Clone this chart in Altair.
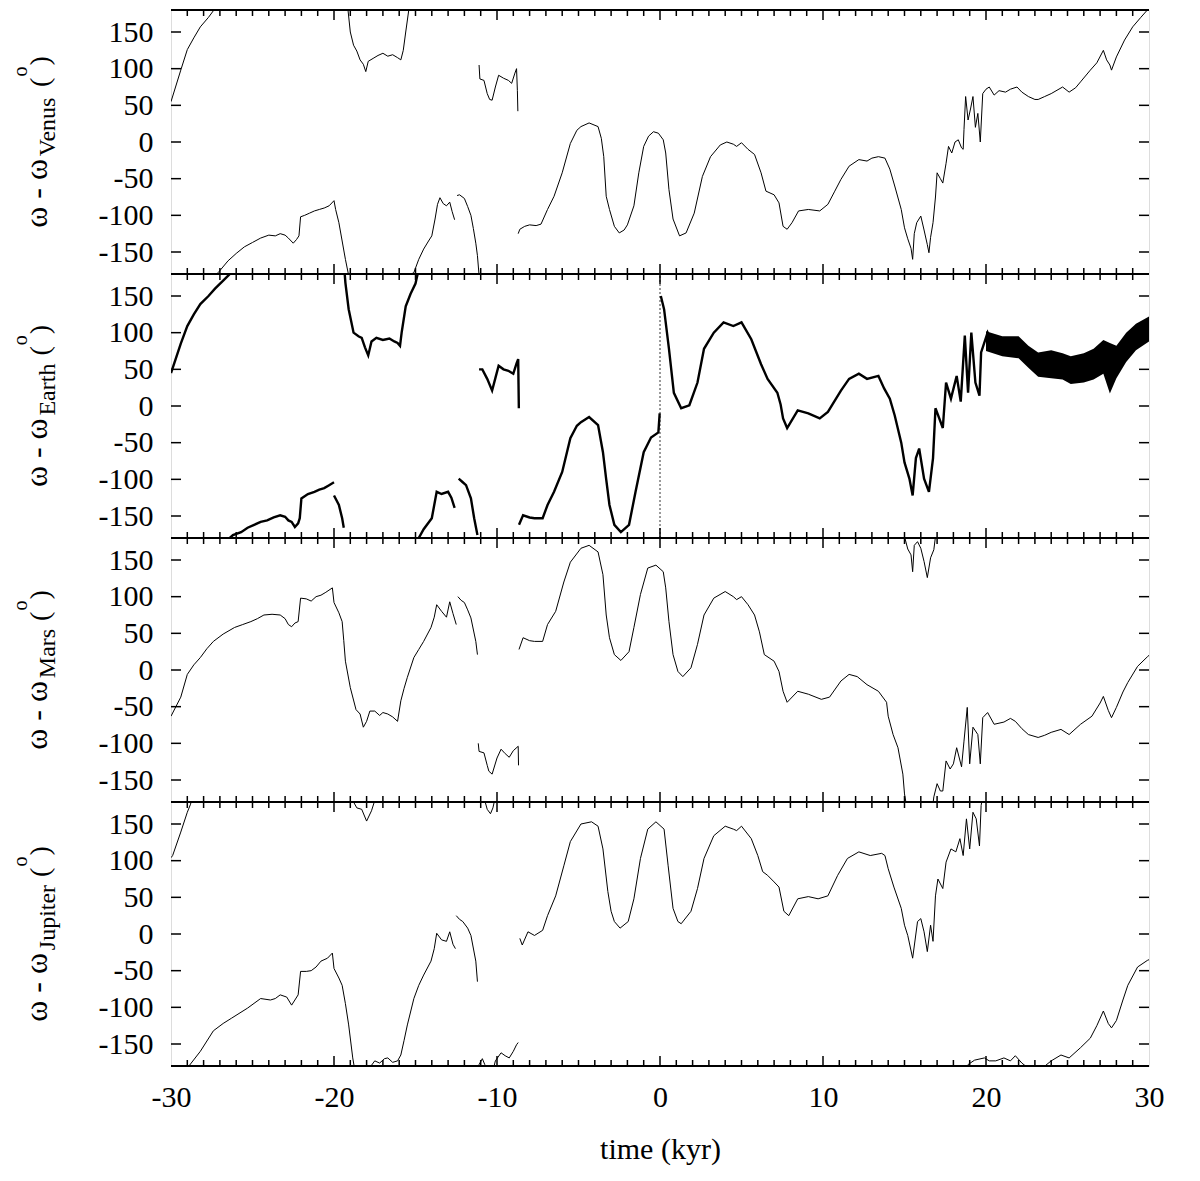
import altair as alt
import pandas as pd

W, H = 978, 264
FONT = "Liberation Serif"

x_labels = [-30, -20, -10, 0, 10, 20, 30]
x_major = [-20, -10, 0, 10, 20]
x_minor = [k for k in range(-29, 30) if k % 10 != 0]
y_ticks = [-150, -100, -50, 0, 50, 100, 150]

# ---------------- Venus panel (omega - omega_Venus) ----------------
venus_segments = [
    [(-30, 55), (-29.4, 98), (-29.0, 126), (-28.6, 142), (-28.2, 157), (-27.7, 170), (-27.3, 182)],
    [(-27.3, -182), (-27.1, -178), (-26.5, -162), (-26.0, -152), (-25.5, -143), (-25.0, -137), (-24.5, -131),
     (-24.0, -127), (-23.6, -128), (-23.3, -125), (-23.0, -127), (-22.8, -131), (-22.5, -138), (-22.3, -133),
     (-22.15, -128), (-22.05, -102), (-21.8, -100), (-21.5, -97), (-21.2, -94), (-20.9, -92), (-20.6, -90),
     (-20.3, -87), (-20.0, -80), (-19.9, -92), (-19.7, -110), (-19.5, -135), (-19.3, -160), (-19.1, -182)],
    [(-19.15, 182), (-19.0, 150), (-18.8, 132), (-18.6, 124), (-18.4, 112), (-18.2, 106), (-18.05, 96),
     (-17.9, 110), (-17.6, 114), (-17.3, 118), (-17.0, 121), (-16.7, 117), (-16.4, 119), (-16.1, 115),
     (-15.9, 112), (-15.75, 125), (-15.6, 150), (-15.4, 182)],
    [(-15.4, -182), (-15.1, -178), (-14.8, -160), (-14.5, -146), (-14.2, -135), (-14.0, -128), (-13.8, -105),
     (-13.65, -85), (-13.5, -76), (-13.3, -84), (-13.1, -87), (-12.9, -82), (-12.75, -95), (-12.6, -106)],
    [(-12.45, -73), (-12.3, -72), (-12.0, -77), (-11.8, -88), (-11.6, -100), (-11.45, -118), (-11.3, -138),
     (-11.2, -155), (-11.1, -182)],
    [(-11.1, 105), (-11.05, 86), (-10.8, 84), (-10.6, 66), (-10.45, 58), (-10.3, 57), (-10.1, 75), (-9.9, 91),
     (-9.6, 87), (-9.3, 84), (-9.1, 80), (-8.9, 94), (-8.8, 100), (-8.75, 70), (-8.72, 42)],
    [(-8.7, -125), (-8.6, -119), (-8.3, -115), (-8.0, -113), (-7.6, -114), (-7.3, -112), (-6.9, -92), (-6.5, -74),
     (-6.0, -42), (-5.5, -2), (-5.1, 16), (-4.85, 21), (-4.35, 26), (-3.8, 21), (-3.6, 5), (-3.45, -20),
     (-3.3, -74), (-3.1, -92), (-2.8, -115), (-2.5, -124), (-2.2, -120), (-2.0, -113), (-1.6, -87), (-1.3, -42),
     (-1.0, -6), (-0.7, 8), (-0.4, 14), (-0.1, 12), (0.2, 3), (0.35, -15), (0.55, -65), (0.8, -105), (1.2, -128),
     (1.6, -124), (2.1, -97), (2.6, -47), (3.1, -20), (3.7, -4), (4.1, 0), (4.5, -3), (4.7, -6), (5.0, -1),
     (5.4, -10), (5.8, -17), (6.2, -42), (6.5, -67), (7.0, -72), (7.3, -83), (7.55, -115), (7.8, -119),
     (8.1, -110), (8.5, -94), (9.1, -92), (9.8, -94), (10.3, -85), (10.7, -68), (11.1, -51), (11.6, -33),
     (12.2, -24), (12.7, -26), (13.0, -22), (13.4, -20), (13.8, -22), (14.1, -37), (14.4, -60), (14.8, -92),
     (15.0, -117), (15.2, -132), (15.4, -145), (15.5, -160), (15.6, -125), (15.75, -110), (16.0, -101),
     (16.2, -120), (16.4, -140), (16.5, -151), (16.6, -130), (16.75, -110), (16.9, -75), (17.0, -42),
     (17.2, -50), (17.35, -56), (17.55, -29), (17.7, -6), (17.9, -15), (18.1, 0), (18.3, 3), (18.5, -8),
     (18.6, -10), (18.65, 17), (18.75, 62), (18.9, 30), (19.05, 45), (19.2, 62), (19.35, 20), (19.5, 39),
     (19.65, 0), (19.8, 66), (20.0, 72), (20.2, 75), (20.5, 64), (20.8, 70), (21.2, 68), (21.5, 72),
     (21.9, 75), (22.2, 68), (22.6, 62), (23.0, 58), (23.2, 58), (23.6, 62), (24.0, 66), (24.7, 75),
     (25.1, 68), (25.5, 74), (25.8, 82), (26.4, 98), (26.8, 108), (27.2, 125), (27.4, 112), (27.6, 105),
     (27.7, 98), (28.0, 116), (28.5, 139), (29.0, 157), (29.5, 170), (29.9, 180), (30.0, 182)],
]

# ---------------- Earth panel (omega - omega_Earth) ----------------
earth_segments = [
    [(-30, 45), (-29.4, 85), (-29.0, 109), (-28.6, 125), (-28.2, 139), (-27.7, 150), (-27.3, 160),
     (-26.8, 171), (-26.3, 182)],
    [(-26.5, -182), (-26.2, -176), (-25.7, -172), (-25.3, -166), (-24.9, -162), (-24.5, -158), (-24.1, -156),
     (-23.7, -152), (-23.3, -149), (-23.0, -151), (-22.8, -156), (-22.6, -158), (-22.4, -165), (-22.2, -160),
     (-22.1, -153), (-22.0, -126), (-21.6, -120), (-21.2, -117), (-20.9, -114), (-20.6, -112), (-20.3, -108),
     (-20.0, -104)],
    [(-20.0, -122), (-19.7, -135), (-19.5, -153), (-19.4, -166)],
    [(-19.35, 182), (-19.3, 168), (-19.1, 132), (-18.8, 100), (-18.5, 95), (-18.3, 93), (-18.1, 80),
     (-17.9, 69), (-17.7, 88), (-17.4, 93), (-17.0, 90), (-16.6, 92), (-16.3, 88), (-16.1, 86), (-15.95, 82),
     (-15.85, 100), (-15.6, 136), (-15.3, 153), (-15.0, 167), (-14.85, 182)],
    [(-14.85, -182), (-14.5, -168), (-14.0, -153), (-13.7, -117), (-13.4, -120), (-13.0, -117), (-12.8, -125),
     (-12.6, -139)],
    [(-12.35, -99), (-12.1, -104), (-11.9, -108), (-11.6, -126), (-11.4, -153), (-11.2, -176)],
    [(-11.1, 50), (-10.9, 50), (-10.6, 37), (-10.3, 21), (-10.1, 38), (-9.9, 55), (-9.6, 50), (-9.3, 48),
     (-9.0, 44), (-8.8, 58), (-8.7, 64), (-8.68, 30), (-8.66, -3)],
    [(-8.65, -162), (-8.4, -149), (-8.0, -152), (-7.7, -153), (-7.2, -153), (-6.9, -135), (-6.5, -117),
     (-6.0, -90), (-5.5, -44), (-5.1, -27), (-4.85, -22), (-4.35, -15), (-3.8, -26), (-3.5, -63), (-3.3, -100),
     (-3.1, -135), (-2.8, -162), (-2.4, -172), (-1.9, -162), (-1.5, -117), (-1.0, -63), (-0.55, -43),
     (-0.1, -36), (-0.02, -10)],
    [(0.05, 150), (0.25, 132), (0.55, 78), (0.85, 18), (1.3, -3), (1.8, 1), (2.3, 32), (2.7, 78), (3.3, 100),
     (3.9, 114), (4.5, 109), (5.0, 114), (5.6, 91), (6.2, 57), (6.6, 37), (7.2, 18), (7.4, 2), (7.55, -17),
     (7.8, -30), (8.45, -6), (9.1, -10), (9.8, -17), (10.3, -8), (11.1, 21), (11.6, 37), (12.2, 44),
     (12.7, 37), (13.4, 41), (13.75, 24), (14.1, 10), (14.4, -13), (14.8, -50), (15.0, -77), (15.3, -99),
     (15.5, -122), (15.7, -71), (15.9, -58), (16.2, -99), (16.5, -117), (16.75, -71), (16.9, -3),
     (17.35, -30), (17.55, 32), (17.85, 10), (18.2, 41), (18.45, 6), (18.7, 96), (18.9, 18), (19.1, 100),
     (19.35, 32), (19.6, 14), (19.7, 73), (20.1, 100), (20.5, 80), (21.1, 86), (21.8, 91), (22.6, 64),
     (23.2, 55), (24.0, 59), (24.7, 59), (25.2, 50), (26.0, 55), (26.6, 59), (27.2, 64), (27.7, 46),
     (28.3, 64), (28.9, 86), (29.6, 103), (30.0, 105)],
]
# fast-oscillation envelope of the Earth curve after ~20 kyr
earth_band_t = [20.0, 21.0, 22.0, 22.6, 23.2, 24.0, 24.7, 25.2, 26.0, 26.6, 27.2, 27.6, 28.0, 28.6, 29.2, 30.0]
earth_band_hi = [102, 95, 95, 82, 73, 76, 72, 68, 72, 78, 90, 86, 82, 100, 112, 122]
earth_band_lo = [75, 68, 65, 52, 40, 38, 36, 30, 32, 36, 44, 17, 38, 60, 76, 88]
earth_jump = [(0.0, -180), (0.0, 180)]

# ---------------- Mars panel (omega - omega_Mars) ----------------
mars_segments = [
    [(-30, -63), (-29.4, -37), (-29.0, -6), (-28.6, 7), (-28.2, 17), (-27.8, 29), (-27.4, 39), (-26.8, 49),
     (-26.1, 58), (-25.6, 62), (-25.1, 66), (-24.7, 70), (-24.3, 75), (-23.8, 76), (-23.3, 75), (-23.0, 70),
     (-22.8, 62), (-22.6, 59), (-22.4, 64), (-22.2, 66), (-22.05, 98), (-21.7, 97), (-21.4, 94), (-21.1, 100),
     (-20.8, 102), (-20.5, 106), (-20.1, 112), (-20.0, 92), (-19.7, 78), (-19.5, 66), (-19.4, 40), (-19.3, 12),
     (-19.0, -24), (-18.65, -54), (-18.4, -60), (-18.2, -78), (-18.0, -70), (-17.8, -56), (-17.5, -56),
     (-17.2, -62), (-17.0, -58), (-16.7, -60), (-16.4, -64), (-16.1, -70), (-15.9, -42), (-15.7, -25),
     (-15.5, -10), (-15.1, 17), (-14.8, 28), (-14.5, 39), (-14.05, 58), (-13.85, 72), (-13.7, 89),
     (-13.4, 80), (-13.1, 72), (-12.9, 93), (-12.7, 77), (-12.5, 62)],
    [(-12.4, 100), (-12.2, 95), (-12.0, 92), (-11.8, 82), (-11.6, 71), (-11.3, 39), (-11.2, 21)],
    [(-11.15, -100), (-11.1, -111), (-10.8, -113), (-10.6, -130), (-10.5, -138), (-10.3, -142), (-10.0, -120),
     (-9.75, -108), (-9.5, -114), (-9.25, -119), (-9.0, -110), (-8.7, -104), (-8.68, -130)],
    [(-8.65, 28), (-8.4, 44), (-8.0, 40), (-7.7, 39), (-7.2, 39), (-6.9, 62), (-6.4, 80), (-5.9, 120),
     (-5.5, 147), (-4.85, 166), (-4.35, 170), (-3.8, 161), (-3.5, 130), (-3.3, 75), (-3.1, 44), (-2.8, 21),
     (-2.4, 13), (-1.9, 25), (-1.6, 58), (-1.2, 103), (-0.75, 139), (-0.25, 143), (0.2, 134), (0.35, 112),
     (0.55, 66), (0.8, 21), (1.1, -2), (1.4, -9), (1.9, 3), (2.3, 35), (2.7, 75), (3.3, 98), (4.0, 107),
     (4.5, 100), (4.7, 96), (5.0, 100), (5.4, 89), (5.8, 75), (6.1, 52), (6.4, 21), (7.0, 12), (7.3, -2),
     (7.55, -29), (7.8, -44), (8.45, -29), (9.1, -33), (9.9, -40), (10.4, -37), (11.1, -15), (11.6, -6),
     (12.1, -9), (12.7, -20), (13.4, -29), (13.9, -44), (14.0, -63), (14.3, -88), (14.6, -106), (14.9, -142),
     (15.0, -169), (15.1, -182)],
    [(15.0, 182), (15.2, 165), (15.4, 157), (15.5, 134), (15.6, 170), (15.8, 175), (16.0, 166), (16.2, 148),
     (16.4, 126), (16.6, 153), (16.8, 164), (16.9, 182)],
    [(16.75, -182), (16.8, -173), (17.0, -155), (17.2, -165), (17.35, -165), (17.55, -124), (17.8, -135),
     (18.0, -128), (18.2, -106), (18.5, -132), (18.65, -97), (18.85, -51), (19.0, -128), (19.2, -78),
     (19.5, -88), (19.65, -128), (19.8, -65), (20.1, -58), (20.5, -74), (21.1, -71), (21.5, -66), (21.8, -70),
     (22.2, -80), (22.6, -88), (23.2, -92), (23.6, -89), (24.0, -85), (24.6, -81), (25.1, -88), (25.8, -74),
     (26.5, -63), (27.0, -45), (27.2, -36), (27.5, -55), (27.7, -65), (28.0, -51), (28.4, -30), (28.7, -17),
     (29.3, 5), (29.9, 18), (30.0, 20)],
]

# ---------------- Jupiter panel (omega - omega_Jupiter) ----------------
jupiter_segments = [
    [(-30, 104), (-29.9, 107), (-29.4, 139), (-29.0, 166), (-28.8, 177), (-28.75, 182)],
    [(-28.95, -182), (-28.9, -180), (-28.2, -160), (-27.4, -132), (-26.8, -122), (-26.3, -115), (-25.3, -101),
     (-24.5, -88), (-23.9, -90), (-23.6, -88), (-23.3, -83), (-22.9, -86), (-22.6, -97), (-22.4, -90),
     (-22.2, -83), (-22.05, -51), (-21.7, -51), (-21.4, -50), (-21.1, -45), (-20.8, -37), (-20.4, -33),
     (-20.1, -26), (-20.0, -47), (-19.7, -60), (-19.5, -70), (-19.3, -95), (-19.1, -124), (-18.85, -169),
     (-18.75, -182)],
    [(-18.85, 182), (-18.6, 172), (-18.3, 170), (-18.0, 154), (-17.7, 168), (-17.5, 182)],
    [(-17.8, -182), (-17.5, -173), (-17.2, -176), (-16.9, -170), (-16.7, -169), (-16.4, -175), (-16.1, -173),
     (-15.9, -165), (-15.7, -145), (-15.5, -124), (-15.1, -88), (-14.8, -70), (-14.5, -56), (-14.05, -37),
     (-13.85, -20), (-13.7, 1), (-13.4, -8), (-13.1, -10), (-12.9, 3), (-12.7, -14), (-12.55, -20)],
    [(-12.5, 25), (-12.3, 20), (-12.1, 17), (-11.8, 8), (-11.6, -2), (-11.3, -37), (-11.2, -65)],
    [(-11.15, -182), (-11.1, -178), (-10.9, -170), (-10.75, -178), (-10.65, -182)],
    [(-10.75, 182), (-10.6, 170), (-10.4, 164), (-10.25, 172), (-10.15, 182)],
    [(-10.2, -182), (-10.1, -173), (-9.75, -162), (-9.5, -166), (-9.25, -169), (-9.0, -160), (-8.8, -151),
     (-8.7, -148)],
    [(-8.6, -6), (-8.45, -15), (-8.1, 3), (-7.7, -2), (-7.2, 5), (-6.9, 25), (-6.4, 52), (-5.9, 93),
     (-5.5, 126), (-4.85, 150), (-4.2, 153), (-3.8, 147), (-3.5, 116), (-3.2, 58), (-3.0, 31), (-2.8, 17),
     (-2.45, 8), (-1.95, 17), (-1.6, 48), (-1.2, 103), (-0.75, 143), (-0.25, 153), (0.25, 143), (0.5, 93),
     (0.8, 35), (1.1, 17), (1.3, 14), (1.9, 31), (2.3, 62), (2.7, 103), (3.3, 134), (4.0, 147), (4.5, 143),
     (4.7, 141), (5.0, 147), (5.6, 130), (6.0, 107), (6.3, 85), (6.6, 80), (7.0, 71), (7.3, 64), (7.6, 31),
     (7.9, 25), (8.45, 48), (9.1, 51), (9.7, 48), (10.3, 52), (10.9, 80), (11.5, 103), (12.2, 112),
     (12.9, 107), (13.6, 110), (13.8, 107), (14.0, 89), (14.35, 64), (14.8, 35), (15.0, 12), (15.2, -2),
     (15.5, -33), (15.8, 17), (16.0, 21), (16.2, 3), (16.4, -24), (16.6, 12), (16.75, -10), (16.9, 52),
     (17.05, 75), (17.35, 62), (17.55, 98), (17.85, 116), (18.15, 112), (18.4, 130), (18.6, 107), (18.8, 157),
     (19.0, 116), (19.2, 166), (19.4, 157), (19.6, 120), (19.7, 175), (19.75, 182)],
    [(18.85, -182), (18.9, -178), (19.3, -172), (19.9, -169), (20.2, -173), (20.6, -173), (21.1, -169),
     (21.5, -173), (21.8, -166), (22.2, -176), (22.6, -183)],
    [(23.5, -182), (24.0, -173), (24.6, -165), (25.1, -169), (25.8, -155), (26.4, -142), (26.8, -125),
     (27.2, -105), (27.5, -122), (27.7, -128), (28.0, -118), (28.4, -90), (28.7, -70), (29.3, -45),
     (29.9, -36), (30.0, -35)],
]

planet_names = ["Venus", "Earth", "Mars", "Jupiter"]

# ------------------------------------------------------------------
xs = alt.Scale(domain=[-30, 30], nice=False, zero=False, padding=0)
ys = alt.Scale(domain=[-180, 180], nice=False, zero=False, padding=0)

yaxis = alt.Axis(values=y_ticks, ticks=False, tickSize=0, domain=False, grid=False, title=None,
                 labelFont=FONT, labelFontSize=30, labelPadding=18, labelColor="black",
                 labelFlush=False, labelExpr="'' + datum.value")
xaxis_bottom = alt.Axis(values=x_labels, ticks=False, tickSize=0, domain=False, grid=False,
                        labelFont=FONT, labelFontSize=30, labelPadding=16, labelColor="black",
                        labelFlush=False, labelExpr="'' + datum.value", title="time (kyr)",
                        titleFont=FONT, titleFontSize=30, titleFontWeight="normal", titleColor="black",
                        titlePadding=22)

CW = {"ω": 0.686, " ": 0.25, "-": 0.333, "(": 0.333, ")": 0.333, "o": 0.5,
      "V": 0.722, "e": 0.444, "n": 0.5, "u": 0.5, "s": 0.389, "E": 0.611, "a": 0.444,
      "r": 0.333, "t": 0.278, "h": 0.5, "M": 0.889, "J": 0.389, "p": 0.5, "i": 0.278}


def tw(s, size):
    return sum(CW.get(c, 0.5) for c in s) * size


one = pd.DataFrame({"k": [0]})


def title_layers(name):
    S, S2, SP, SO = 32, 24, 28, 20
    xb = -124
    w1 = tw("ω - ω", S)
    w2 = tw(name, S2)
    wp = tw("(", SP)
    wo = tw("o", SO)
    gap = 0.25 * S
    L = w1 + 1 + w2 + gap + wp + wo + 2 + wp
    start = H / 2 + L / 2
    pieces = [
        ("ω - ω", S, xb, start),
        (name, S2, xb + 8, start - w1 - 1),
        ("(", SP, xb + 2, start - w1 - 1 - w2 - gap),
        ("o", SO, xb - 20, start - w1 - 1 - w2 - gap - wp - 1),
        (")", SP, xb + 2, start - w1 - 1 - w2 - gap - wp - wo - 2),
    ]
    out = []
    for txt, size, px, py in pieces:
        out.append(alt.Chart(one).mark_text(text=txt, angle=270, align="left", baseline="alphabetic",
                                            font=FONT, fontSize=size, color="black")
                   .encode(x=alt.value(px), y=alt.value(py)))
    return out


def seg_df(segs):
    rows = []
    for s, seg in enumerate(segs):
        for i, (t, v) in enumerate(seg):
            rows.append({"seg": s, "i": i, "t": t, "v": v})
    return pd.DataFrame(rows)


def make_panel(segs, name, bottom=False, stroke=1.0, earth=False):
    xaxis = xaxis_bottom if bottom else None

    def X():
        return alt.X("t:Q", scale=xs, axis=xaxis)

    def Y():
        return alt.Y("v:Q", scale=ys, axis=yaxis)

    layers = []
    layers.append(alt.Chart(seg_df(segs)).mark_line(color="black", strokeWidth=stroke, clip=True)
                  .encode(x=X(), y=Y(), detail="seg:N", order="i:Q"))
    if earth:
        band = pd.DataFrame({"t": earth_band_t, "v": earth_band_hi, "lo": earth_band_lo})
        layers.append(alt.Chart(band).mark_area(color="black", clip=True)
                      .encode(x=X(), y=Y(), y2="lo:Q"))
        jump = pd.DataFrame(earth_jump, columns=["t", "v"])
        layers.append(alt.Chart(jump).mark_line(color="black", strokeWidth=0.8, strokeDash=[2, 2], clip=True)
                      .encode(x=X(), y=Y()))
    major = pd.DataFrame({"t": x_major})
    minor = pd.DataFrame({"t": x_minor})
    yt = pd.DataFrame({"v": y_ticks})
    for df, ln in ((major, 10), (minor, 6)):
        layers.append(alt.Chart(df).mark_rule(color="black", strokeWidth=1.5)
                      .encode(x=X(), y=alt.value(0), y2=alt.value(ln)))
        layers.append(alt.Chart(df).mark_rule(color="black", strokeWidth=1.5)
                      .encode(x=X(), y=alt.value(H), y2=alt.value(H - ln)))
    layers.append(alt.Chart(yt).mark_rule(color="black", strokeWidth=1.5)
                  .encode(x=alt.value(0), x2=alt.value(10), y=Y()))
    layers.append(alt.Chart(yt).mark_rule(color="black", strokeWidth=1.5)
                  .encode(x=alt.value(W), x2=alt.value(W - 10), y=Y()))
    # solid frame lines at the top and bottom of the panel
    for yy in (0, H):
        layers.append(alt.Chart(one).mark_rule(color="black", strokeWidth=2)
                      .encode(x=alt.value(0), x2=alt.value(W), y=alt.value(yy)))
    # invisible anchor fixing the left extent of the whole figure
    layers.append(alt.Chart(one).mark_rule(color="white", strokeWidth=1)
                  .encode(x=alt.value(-162), y=alt.value(1), y2=alt.value(3)))
    layers += title_layers(name)
    return alt.layer(*layers).properties(width=W, height=H)


p1 = make_panel(venus_segments, planet_names[0])
p2 = make_panel(earth_segments, planet_names[1], stroke=2.4, earth=True)
p3 = make_panel(mars_segments, planet_names[2])
p4 = make_panel(jupiter_segments, planet_names[3], bottom=True)

chart = (alt.vconcat(p1, p2, p3, p4, spacing=0, bounds="flush")
         .properties(padding={"left": 0, "top": 0, "right": 10, "bottom": 5})
         .configure_view(stroke="black", strokeWidth=2)
         .configure(background="white"))

chart.save("out.html", embed_options={"renderer": "svg", "actions": False})
